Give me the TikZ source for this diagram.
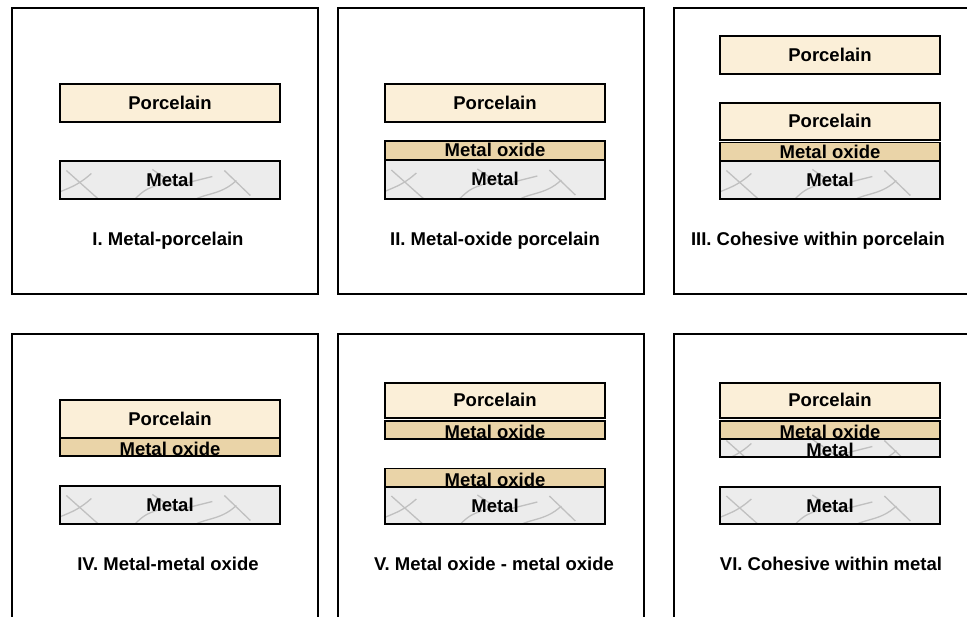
\documentclass[tikz,border=0pt]{standalone}
\usepackage{fontspec}
\setmainfont{Liberation Sans}
\definecolor{porcelainfill}{RGB}{251,239,216}
\definecolor{oxidefill}{RGB}{234,212,168}
\definecolor{metalfill}{RGB}{236,236,236}
\definecolor{veingray}{RGB}{192,192,192}
\newcommand\metalveins{%
  \begin{scope}[shift={(path picture bounding box.center)}, veingray, line width=1.3pt]
    \draw (-102,15) .. controls (-85,1) and (-75,5) .. (-55,-13);
    \draw (-80,-16) -- (-52,9) -- (-38,21);
    \draw (-18,19) .. controls (-2,3) .. (16,-3);
    \draw (6,-17) -- (30,-1) -- (66,-10);
    \draw (40,19) .. controls (55,5) and (72,11) .. (90,-6);
    \draw (78,-16) -- (104,9);
  \end{scope}}

\begin{document}
\begin{tikzpicture}[x=1pt, y=-1pt,
  every node/.style={font=\fontsize{18.5}{22}\selectfont\bfseries},
  panel/.style={draw, line width=1.3pt},
  bar/.style={draw, line width=1.6pt, inner sep=0pt, minimum width=220pt,
    text height=13pt, text depth=0pt},
  porcelain/.style={bar, fill=porcelainfill, minimum height=38pt},
  oxide/.style={bar, fill=oxidefill, minimum height=19pt},
  metal/.style={bar, fill=metalfill, minimum height=38pt, path picture={\metalveins}},
  thin/.style={minimum height=18pt, text height=17pt},
  caption/.style={text height=13pt, text depth=0pt}]
\useasboundingbox (0,0) rectangle (967,617);

% frames
\draw[panel] (12,8) rectangle (318,294);
\draw[panel] (338,8) rectangle (644,294);
\draw[panel] (674,8) rectangle (995,294);
\draw[panel] (12,334) rectangle (318,640);
\draw[panel] (338,334) rectangle (644,640);
\draw[panel] (674,334) rectangle (995,640);

% I
\node[porcelain] (p1) at (170,103) {Porcelain};
\node[metal] (m1) at (170,180) {Metal};
\node[caption] (c1) at (168,239) {I. Metal-porcelain};

% II
\node[porcelain] (p2) at (495,103) {Porcelain};
\node[oxide] (o2) at (495,150.5) {Metal oxide};
\node[metal, minimum height=39pt] (m2) at (495,179.5) {Metal};
\node[caption] (c2) at (495,239) {II. Metal-oxide porcelain};

% III
\node[porcelain] (p3a) at (830,55) {Porcelain};
\node[porcelain, minimum height=37pt] (p3b) at (830,121.5) {Porcelain};
\node[oxide, minimum height=18.5pt] (o3) at (830,151.75) {Metal oxide};
\node[metal] (m3) at (830,180) {Metal};
\node[caption] (c3) at (818,239) {III. Cohesive within porcelain};

% IV
\node[porcelain] (p4) at (170,419) {Porcelain};
\node[oxide, thin] (o4) at (170,447) {Metal oxide};
\node[metal] (m4) at (170,505) {Metal};
\node[caption] (c4) at (168,564) {IV. Metal-metal oxide};

% V
\node[porcelain, minimum height=35pt] (p5) at (495,400.5) {Porcelain};
\node[oxide, thin] (o5a) at (495,430) {Metal oxide};
\node[oxide, thin] (o5b) at (495,477.5) {Metal oxide};
\node[metal, minimum height=37pt] (m5) at (495,505.5) {Metal};
\node[caption] (c5) at (494,564) {V. Metal oxide - metal oxide};

% VI
\node[porcelain, minimum height=35pt] (p6) at (830,400.5) {Porcelain};
\node[oxide, thin] (o6) at (830,430) {Metal oxide};
\node[metal, thin] (m6a) at (830,448) {Metal};
\node[metal, minimum height=37pt] (m6b) at (830,505.5) {Metal};
\node[caption] (c6) at (831,564) {VI. Cohesive within metal};
\end{tikzpicture}
\end{document}
